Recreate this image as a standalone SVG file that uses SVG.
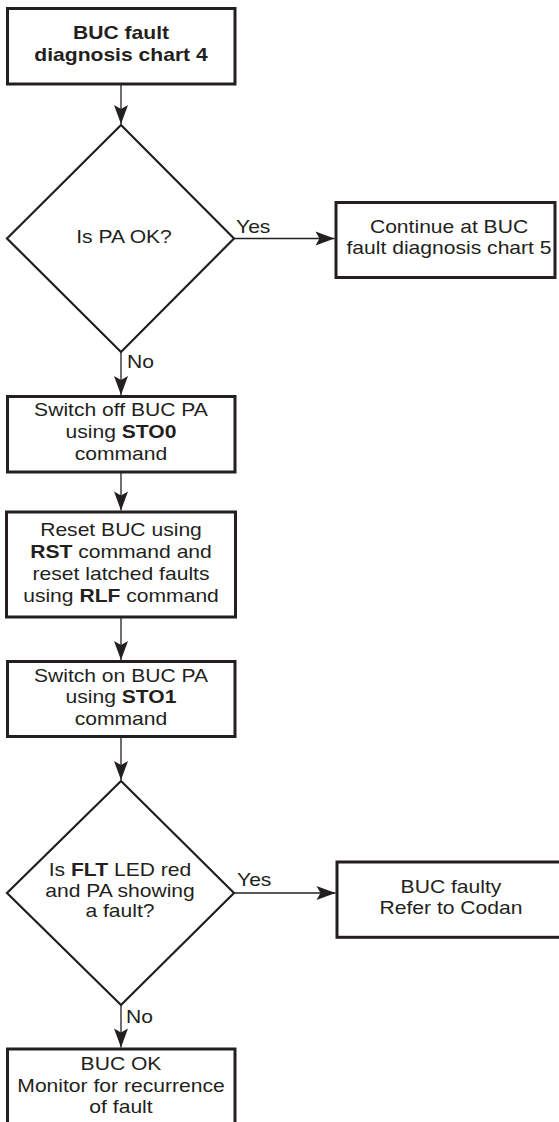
<svg xmlns="http://www.w3.org/2000/svg" width="559" height="1122" viewBox="0 0 559 1122">
<style>
.box{fill:#fff;stroke:#231f20;stroke-width:3}
.dia{fill:#fff;stroke:#231f20;stroke-width:2.2}
.con{fill:none;stroke:#231f20;stroke-width:1.3}
.t{font-family:"Liberation Sans",Arial,sans-serif;font-size:18.6px;fill:#231f20;text-anchor:middle}
.l{font-family:"Liberation Sans",Arial,sans-serif;font-size:18.6px;fill:#231f20}
.b{font-weight:bold}
</style>
<defs>
<marker id="ah" markerUnits="userSpaceOnUse" markerWidth="22" markerHeight="16" viewBox="-20 -8 22 16" refX="0" refY="0" orient="auto">
<path d="M0,0 L-19,-7 L-15,0 L-19,7 Z" fill="#231f20"/>
</marker>
</defs>
<rect width="559" height="1122" fill="#fff"/>
<g id="connectors">
<line class="con" x1="121" y1="85" x2="121" y2="124" marker-end="url(#ah)"/>
<line class="con" x1="121" y1="352" x2="121" y2="395" marker-end="url(#ah)"/>
<line class="con" x1="121" y1="473" x2="121" y2="510.5" marker-end="url(#ah)"/>
<line class="con" x1="121" y1="618" x2="121" y2="660" marker-end="url(#ah)"/>
<line class="con" x1="121" y1="737" x2="121" y2="780" marker-end="url(#ah)"/>
<line class="con" x1="121" y1="1005" x2="121" y2="1047.5" marker-end="url(#ah)"/>
<line class="con" x1="234" y1="238.5" x2="334.5" y2="238.5" marker-end="url(#ah)"/>
<line class="con" x1="234" y1="893" x2="335.5" y2="893" marker-end="url(#ah)"/>
<text class="l" transform="translate(236,233) scale(1.134,1)">Yes</text>
<text class="l" transform="translate(127,368) scale(1.134,1)">No</text>
<text class="l" transform="translate(237,886) scale(1.134,1)">Yes</text>
<text class="l" transform="translate(126,1023.3) scale(1.134,1)">No</text>
</g>
<g id="start">
<rect class="box" x="7.5" y="8.5" width="227.5" height="75.5"/>
<text class="t b" transform="translate(121,0) scale(1.134,1)"><tspan x="0" y="39.3">BUC fault</tspan><tspan x="0" y="61.3">diagnosis chart 4</tspan></text>
</g>
<g id="d1">
<polygon class="dia" points="121,125 234,238.5 121,352 7,238.5"/>
<text class="t" transform="translate(124,243) scale(1.134,1)">Is PA OK?</text>
</g>
<g id="chart5">
<rect class="box" x="336" y="202.5" width="219" height="75"/>
<text class="t" transform="translate(449,0) scale(1.134,1)"><tspan x="0" y="233.5">Continue at BUC</tspan><tspan x="0" y="254.5">fault diagnosis chart 5</tspan></text>
</g>
<g id="sto0">
<rect class="box" x="7.5" y="396.5" width="227.5" height="75.5"/>
<text class="t" transform="translate(121,0) scale(1.134,1)"><tspan x="0" y="416.5">Switch off BUC PA</tspan><tspan x="0" y="438.2">using <tspan class="b">STO0</tspan></tspan><tspan x="0" y="459.9">command</tspan></text>
</g>
<g id="reset">
<rect class="box" x="6.5" y="512" width="229" height="105"/>
<text class="t" transform="translate(121,0) scale(1.134,1)"><tspan x="0" y="536.5"><tspan>Reset BUC using</tspan></tspan><tspan x="0" y="558.2"><tspan class="b">RST</tspan> command and</tspan><tspan x="0" y="579.9">reset latched faults</tspan><tspan x="0" y="601.6">using <tspan class="b">RLF</tspan> command</tspan></text>
</g>
<g id="sto1">
<rect class="box" x="7.5" y="661.5" width="227.5" height="75"/>
<text class="t" transform="translate(121,0) scale(1.134,1)"><tspan x="0" y="681.7">Switch on BUC PA</tspan><tspan x="0" y="703.4">using <tspan class="b">STO1</tspan></tspan><tspan x="0" y="725.1">command</tspan></text>
</g>
<g id="d2">
<polygon class="dia" points="121,781 234,893 121,1005 7,893"/>
<text class="t" transform="translate(120,0) scale(1.134,1)"><tspan x="0" y="875.7">Is <tspan class="b">FLT</tspan> LED red</tspan><tspan x="0" y="896.7">and PA showing</tspan><tspan x="0" y="917.5">a fault?</tspan></text>
</g>
<g id="faulty">
<rect class="box" x="337" y="862" width="226" height="75.3"/>
<text class="t" transform="translate(451,0) scale(1.134,1)"><tspan x="0" y="893">BUC faulty</tspan><tspan x="0" y="913.7">Refer to Codan</tspan></text>
</g>
<g id="ok">
<rect class="box" x="7.5" y="1049" width="227.5" height="100"/>
<text class="t" transform="translate(121,0) scale(1.134,1)"><tspan x="0" y="1070">BUC OK</tspan><tspan x="0" y="1091.7">Monitor for recurrence</tspan><tspan x="0" y="1112.7">of fault</tspan></text>
</g>
</svg>
